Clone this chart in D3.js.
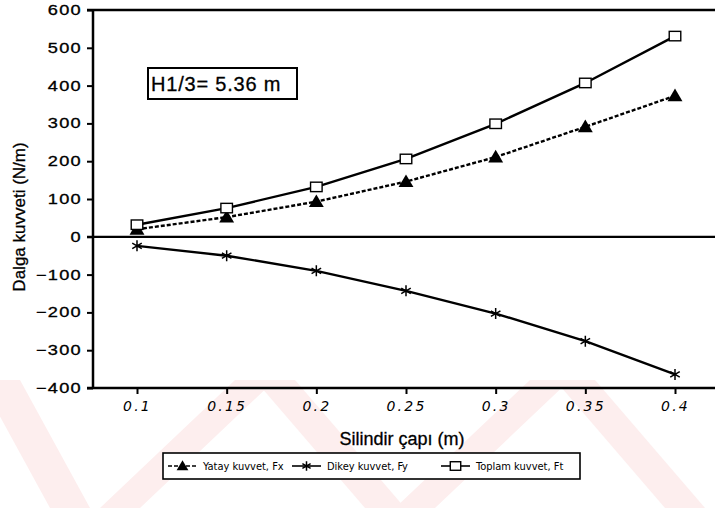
<!DOCTYPE html>
<html>
<head>
<meta charset="utf-8">
<script src="https://cdn.jsdelivr.net/npm/d3@7"></script>
<style>
  html, body { margin: 0; padding: 0; background: #fff; }
  svg { display: block; }
</style>
</head>
<body>
<svg id="chart" width="715" height="508"></svg>
<script>
// Cylinder diameters (m)
const diameters = [0.1, 0.15, 0.2, 0.25, 0.3, 0.35, 0.4];
// Horizontal force Fx (N/m)
const fxValues = [20, 52, 93, 146, 211, 291, 373];
// Vertical force Fy (N/m)
const fyValues = [-24, -50, -90, -143, -203, -276, -364];
// Total force Ft (N/m)
const ftValues = [32, 76, 132, 206, 299, 407, 531];

const yTicks = [-400, -300, -200, -100, 0, 100, 200, 300, 400, 500, 600];
const xTicks = [0.1, 0.15, 0.2, 0.25, 0.3, 0.35, 0.4];
const xTickLabels = ["0.1", "0.15", "0.2", "0.25", "0.3", "0.35", "0.4"];

const svg = d3.select("#chart");
const W = 715, H = 508;

const x = d3.scaleLinear().domain([0.1, 0.4]).range([137, 675]);
const y = d3.scaleLinear().domain([-400, 600]).range([388, 10]);
const axisX = 93;
const black = "#000";
const sans = "'Liberation Sans', Arial, Helvetica, sans-serif";

// faint diagonal background stripes along the bottom
const bands = [
  [[-20, 380], [20, 380], [90, 508], [50, 508]],
  [[100, 508], [140, 508], [275, 380], [235, 380]],
  [[255, 380], [295, 380], [405, 508], [365, 508]],
  [[395, 508], [435, 508], [570, 380], [530, 380]],
  [[555, 380], [595, 380], [705, 508], [665, 508]]
];
svg.append("g").selectAll("path").data(bands).join("path")
  .attr("d", d => "M" + d.map(p => p.join(",")).join("L") + "Z")
  .attr("fill", "#fdeeee");

// frame lines
const frame = svg.append("g").attr("stroke", black).attr("stroke-width", 2.5).attr("fill", "none");
frame.append("line").attr("x1", axisX).attr("x2", axisX).attr("y1", y(600)).attr("y2", y(-400));
frame.append("line").attr("x1", 87).attr("x2", W).attr("y1", y(600)).attr("y2", y(600));
frame.append("line").attr("x1", 87).attr("x2", W).attr("y1", y(-400)).attr("y2", y(-400));
frame.append("line").attr("x1", 87).attr("x2", W).attr("y1", y(0)).attr("y2", y(0)).attr("stroke-width", 2.2);

// y axis (labels drawn in a wide face)
const yStretch = 1.3;
const yAxis = svg.append("g")
  .attr("transform", `translate(${axisX},0)`)
  .call(d3.axisLeft(y).tickValues(yTicks).tickSize(6)
    .tickFormat(d => d < 0 ? "\u2212" + Math.abs(d) : String(d)));
yAxis.select(".domain").remove();
yAxis.selectAll(".tick line").attr("stroke", black).attr("stroke-width", 2);
yAxis.selectAll(".tick text")
  .attr("x", -11 / yStretch)
  .attr("transform", `scale(${yStretch},1)`)
  .attr("fill", black)
  .attr("stroke", black).attr("stroke-width", 0.3)
  .attr("font-family", sans)
  .attr("font-size", 14)
  .attr("letter-spacing", 1);

// x axis
const xAxis = svg.append("g")
  .attr("transform", `translate(0,${y(-400)})`)
  .call(d3.axisBottom(x).tickValues(xTicks).tickSize(6).tickPadding(7)
    .tickFormat((d, i) => xTickLabels[i]));
xAxis.select(".domain").remove();
xAxis.selectAll(".tick line").attr("stroke", black).attr("stroke-width", 2);
xAxis.selectAll(".tick text")
  .attr("fill", black)
  .attr("font-family", "'DejaVu Sans', sans-serif")
  .attr("font-style", "italic")
  .attr("font-size", 14)
  .attr("letter-spacing", 2.2);

// axis titles
svg.append("text")
  .attr("x", 402).attr("y", 445)
  .attr("text-anchor", "middle")
  .attr("font-family", sans)
  .attr("font-size", 18)
  .attr("stroke", black).attr("stroke-width", 0.3)
  .text("Silindir çapı (m)");

svg.append("text")
  .attr("transform", "translate(25,217) rotate(-90)")
  .attr("text-anchor", "middle")
  .attr("font-family", sans)
  .attr("font-size", 17)
  .attr("stroke", black).attr("stroke-width", 0.3)
  .text("Dalga kuvveti (N/m)");

// annotation box
svg.append("rect")
  .attr("x", 148).attr("y", 68).attr("width", 149).attr("height", 31)
  .attr("fill", "#fff").attr("stroke", black).attr("stroke-width", 2);
svg.append("text")
  .attr("x", 151).attr("y", 91)
  .attr("font-family", sans)
  .attr("font-size", 20)
  .attr("letter-spacing", 0.8)
  .attr("stroke", black).attr("stroke-width", 0.3)
  .text("H1/3= 5.36 m");

// series
const series = [
  { name: "Yatay kuvvet, Fx", values: fxValues, dash: "4,2", marker: "triangle", size: 12 },
  { name: "Dikey kuvvet, Fy", values: fyValues, dash: null, marker: "star", size: 11 },
  { name: "Toplam kuvvet, Ft", values: ftValues, dash: null, marker: "square", size: 10.5 }
];

const line = d3.line().x(d => x(d[0])).y(d => y(d[1]));

function drawMarker(g, kind, cx, cy, s) {
  if (kind === "triangle") {
    g.append("path")
      .attr("d", `M${cx},${cy - s * 0.6}L${cx + s * 0.62},${cy + s * 0.45}L${cx - s * 0.62},${cy + s * 0.45}Z`)
      .attr("fill", black);
  } else if (kind === "square") {
    g.append("rect")
      .attr("x", cx - s * 0.55).attr("y", cy - s * 0.45)
      .attr("width", s * 1.1).attr("height", s * 0.9)
      .attr("fill", "#fff").attr("stroke", black).attr("stroke-width", 1.4);
  } else {
    const r = s * 0.5;
    const p = [];
    for (let k = 0; k < 3; k++) {
      const a = Math.PI / 2 + k * Math.PI / 3;
      p.push(`M${cx - r * Math.cos(a)},${cy - r * Math.sin(a)}L${cx + r * Math.cos(a)},${cy + r * Math.sin(a)}`);
    }
    g.append("path").attr("d", p.join("")).attr("stroke", black).attr("stroke-width", 1.5);
  }
}

series.forEach(s => {
  const pts = diameters.map((d, i) => [d, s.values[i]]);
  svg.append("path")
    .datum(pts)
    .attr("d", line)
    .attr("fill", "none")
    .attr("stroke", black)
    .attr("stroke-width", 2.4)
    .attr("stroke-dasharray", s.dash);
  const g = svg.append("g");
  pts.forEach(p => drawMarker(g, s.marker, x(p[0]), y(p[1]), s.size));
});

// legend
const legend = svg.append("g");
legend.append("rect")
  .attr("x", 163).attr("y", 453).attr("width", 417).attr("height", 26)
  .attr("fill", "#fff").attr("stroke", black).attr("stroke-width", 1.6);
const legendX = [168, 292, 441];
series.forEach((s, i) => {
  const lx = legendX[i], ly = 466;
  legend.append("line")
    .attr("x1", lx).attr("x2", lx + 29).attr("y1", ly).attr("y2", ly)
    .attr("stroke", black).attr("stroke-width", 1.6)
    .attr("stroke-dasharray", s.dash);
  drawMarker(legend, s.marker, lx + 14.5, ly, 9.5);
  legend.append("text")
    .attr("x", lx + 35).attr("y", ly + 4)
    .attr("font-family", "'DejaVu Sans Condensed', 'DejaVu Sans', sans-serif")
    .attr("font-size", 11)
    .text(s.name);
});
</script>
</body>
</html>
